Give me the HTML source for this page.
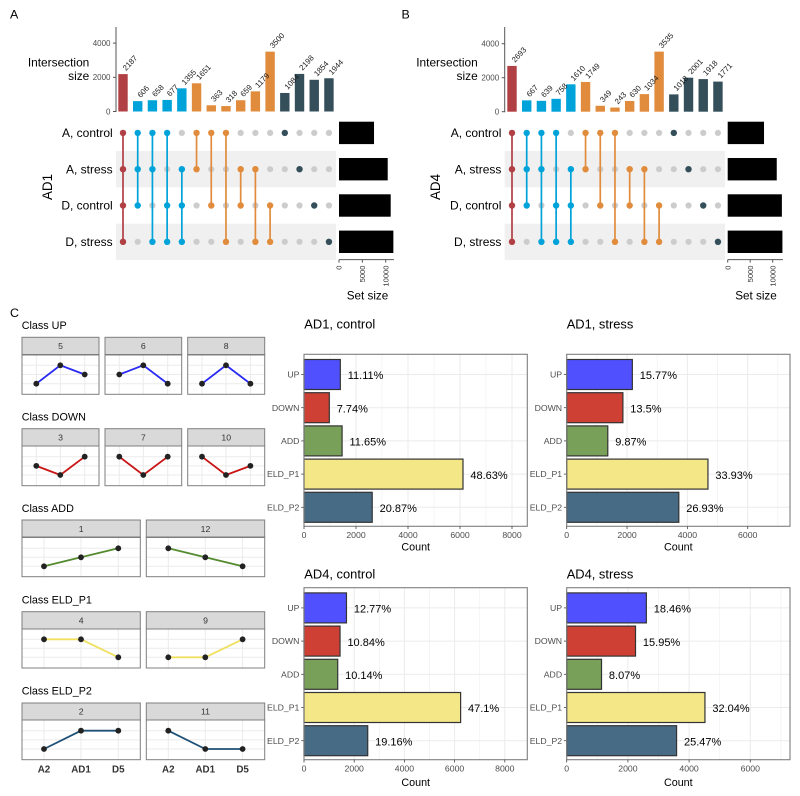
<!DOCTYPE html>
<html lang="en">
<head>
<meta charset="utf-8">
<title>Upset plots and class counts</title>
<style>
html,body{margin:0;padding:0;background:#fff;width:800px;height:796px;overflow:hidden}
svg{display:block;font-family:"Liberation Sans",Arial,sans-serif}
</style>
</head>
<body>
<svg id="fig" xmlns="http://www.w3.org/2000/svg" width="800" height="796" viewBox="0 0 800 796">
<rect x="0" y="0" width="800" height="796" fill="#fff"/>
<g id="marks"></g>
<g fill="#000">
<text x="10" y="18.7" font-size="12.4">A</text>
<text x="401.5" y="18.7" font-size="12.4">B</text>
<text x="10" y="317" font-size="12.4">C</text>
<text x="89.3" y="66.7" font-size="11.9" text-anchor="end">Intersection</text>
<text x="89.3" y="80" font-size="11.9" text-anchor="end">size</text>
<text x="477.7" y="66.7" font-size="11.9" text-anchor="end">Intersection</text>
<text x="477.7" y="80" font-size="11.9" text-anchor="end">size</text>
<text transform="translate(52,187) rotate(-90)" font-size="13.4" text-anchor="middle">AD1</text>
<text transform="translate(440,187) rotate(-90)" font-size="13.4" text-anchor="middle">AD4</text>
<text x="367.5" y="299.3" font-size="11.7" text-anchor="middle">Set size</text>
<text x="756" y="299.3" font-size="11.7" text-anchor="middle">Set size</text>
<text x="21.7" y="329" font-size="10.8">Class UP</text>
<text x="21.7" y="420.5" font-size="10.8">Class DOWN</text>
<text x="21.7" y="512" font-size="10.8">Class ADD</text>
<text x="21.7" y="603.3" font-size="10.8">Class ELD_P1</text>
<text x="21.7" y="694.6" font-size="10.8">Class ELD_P2</text>
<text x="304.3" y="328.3" font-size="12.9">AD1, control</text>
<text x="566.7" y="328.3" font-size="12.9">AD1, stress</text>
<text x="304.3" y="578.3" font-size="12.9">AD4, control</text>
<text x="566.7" y="578.3" font-size="12.9">AD4, stress</text>
<text x="415.7" y="550.7" font-size="10.75" text-anchor="middle">Count</text>
<text x="678.3" y="550.7" font-size="10.75" text-anchor="middle">Count</text>
<text x="415.7" y="786" font-size="10.75" text-anchor="middle">Count</text>
<text x="678.3" y="786" font-size="10.75" text-anchor="middle">Count</text>
</g>
</svg>
<script>
// ---- Upset data ----
const setNames = ['A, control', 'A, stress', 'D, control', 'D, stress'];
const upsetIntersectionGroups = ['all', 'triple', 'triple', 'triple', 'triple', 'pair', 'pair', 'pair', 'pair', 'pair', 'pair', 'single', 'single', 'single', 'single'];
const upsetMembership = [
  [1,1,1,1],[1,1,1,0],[1,1,0,1],[1,0,1,1],[0,1,1,1],
  [1,1,0,0],[1,0,1,0],[1,0,0,1],[0,1,1,0],[0,1,0,1],[0,0,1,1],
  [1,0,0,0],[0,1,0,0],[0,0,1,0],[0,0,0,1]
];
const ad1IntersectionValues = [2187, 606, 658, 677, 1355, 1651, 363, 318, 659, 1179, 3500, 1084, 2198, 1854, 1944];
const ad4IntersectionValues = [2693, 667, 639, 758, 1610, 1749, 349, 243, 630, 1034, 3535, 1018, 2001, 1918, 1771];
const ad1SetSizes = [7500, 10430, 11070, 11640];
const ad4SetSizes = [8070, 10900, 12040, 12160];
const intersectionTicks = [0, 2000, 4000];
const setSizeTicks = [0, 5000, 10000];

// ---- Class profile data ----
const timepoints = ['A2', 'AD1', 'D5'];
const upPanelIds = ['5', '6', '8'];
const upPanelLevels = [[0,2,1],[1,2,0],[0,2,0]];
const downPanelIds = ['3', '7', '10'];
const downPanelLevels = [[1,0,2],[2,0,2],[2,0,1]];
const addPanelIds = ['1', '12'];
const addPanelLevels = [[0,1,2],[2,1,0]];
const eldP1PanelIds = ['4', '9'];
const eldP1PanelLevels = [[2,2,0],[0,0,2]];
const eldP2PanelIds = ['2', '11'];
const eldP2PanelLevels = [[0,2,2],[2,0,0]];

// ---- Count bar data ----
const classCategories = ['UP', 'DOWN', 'ADD', 'ELD_P1', 'ELD_P2'];
const ad1ControlCounts = [1397, 973, 1465, 6115, 2624];
const ad1ControlLabels = ['11.11%', '7.74%', '11.65%', '48.63%', '20.87%'];
const ad1StressCounts = [2176, 1863, 1362, 4682, 3716];
const ad1StressLabels = ['15.77%', '13.5%', '9.87%', '33.93%', '26.93%'];
const ad4ControlCounts = [1692, 1436, 1343, 6240, 2539];
const ad4ControlLabels = ['12.77%', '10.84%', '10.14%', '47.1%', '19.16%'];
const ad4StressCounts = [2603, 2249, 1138, 4518, 3591];
const ad4StressLabels = ['18.46%', '15.95%', '8.07%', '32.04%', '25.47%'];
const countTicksWide = [0, 2000, 4000, 6000, 8000];
const countTicksNarrow = [0, 2000, 4000, 6000];

const NS = 'http://www.w3.org/2000/svg';
const root = document.getElementById('marks');
function add(tag, attrs, name, text) {
  const el = document.createElementNS(NS, tag);
  for (const k in attrs) el.setAttribute(k, attrs[k]);
  
  
  if (text !== undefined) el.textContent = text;
  root.appendChild(el);
  return el;
}

const upsetColors = {all: '#b04044', triple: '#00a3d9', pair: '#e08c3c', single: '#344f5a'};

function drawUpset(prefix, axisX, firstX, stripeEnd, setX0, setPer5000, zeroY, per2000, values, sizes) {
  const stepX = 14.71;
  const rowYs = setNames.map((_, i) => 132.9 + i * 36.3);
  const xCol = i => firstX + i * stepX;
  const yVal = v => zeroY - v / 2000 * per2000;
  const xSet = v => setX0 + v / 5000 * setPer5000;

  // stripes
  [1, 3].forEach(i => {
    add('rect', {x: axisX, y: rowYs[i] - 18.15, width: stripeEnd - axisX, height: 36.3, fill: '#f0f0f0'}, prefix + '-row-stripe');
  });
  // intersection axis
  add('line', {x1: axisX, x2: axisX, y1: 27, y2: zeroY + 0.5, stroke: '#555', 'stroke-width': 1}, prefix + '-intersection-axis');
  intersectionTicks.forEach(t => {
    add('line', {x1: axisX - 3, x2: axisX, y1: yVal(t), y2: yVal(t), stroke: '#555', 'stroke-width': 1}, prefix + '-intersection-tick');
    add('text', {x: axisX - 5.5, y: yVal(t) + 2.9, 'font-size': 8, 'text-anchor': 'end', fill: '#4d4d4d'}, prefix + '-intersection-tick-label', String(t));
  });
  // bars and labels
  values.forEach((v, i) => {
    const c = upsetColors[upsetIntersectionGroups[i]];
    add('rect', {x: xCol(i) - 4.7, y: yVal(v), width: 9.4, height: zeroY - yVal(v), fill: c}, prefix + '-intersection-bar');
  });
  values.forEach((v, i) => {
    const lx = xCol(i) + 3, ly = yVal(v) - 3;
    add('text', {transform: 'translate(' + lx + ',' + ly + ') rotate(-47)', 'font-size': 7.8, fill: '#1a1a1a'}, prefix + '-intersection-value', String(v));
  });
  // set labels
  setNames.forEach((n, r) => {
    add('text', {x: axisX - 3.3, y: rowYs[r] + 4.2, 'font-size': 12, 'text-anchor': 'end', fill: '#000'}, prefix + '-set-label', n);
  });
  // matrix
  upsetMembership.forEach((col, i) => {
    const c = upsetColors[upsetIntersectionGroups[i]];
    const on = col.map((m, r) => m ? r : -1).filter(r => r >= 0);
    col.forEach((m, r) => {
      if (!m) add('circle', {cx: xCol(i), cy: rowYs[r], r: 3.1, fill: '#cccccc'}, prefix + '-matrix-dot-empty');
    });
    if (on.length > 1) {
      add('line', {x1: xCol(i), x2: xCol(i), y1: rowYs[on[0]], y2: rowYs[on[on.length - 1]], stroke: c, 'stroke-width': 1.7}, prefix + '-matrix-link');
    }
    on.forEach(r => {
      add('circle', {cx: xCol(i), cy: rowYs[r], r: 3.2, fill: c}, prefix + '-matrix-dot');
    });
  });
  // set size bars
  sizes.forEach((v, r) => {
    add('rect', {x: setX0, y: rowYs[r] - 11.2, width: xSet(v) - setX0, height: 22.4, fill: '#000'}, prefix + '-set-size-bar');
  });
  add('line', {x1: setX0, x2: xSet(Math.max(...sizes)) + 0.5, y1: 259.6, y2: 259.6, stroke: '#555', 'stroke-width': 1}, prefix + '-set-size-axis');
  setSizeTicks.forEach(t => {
    add('line', {x1: xSet(t), x2: xSet(t), y1: 259.6, y2: 262.6, stroke: '#555', 'stroke-width': 1}, prefix + '-set-size-tick');
    add('text', {transform: 'translate(' + (xSet(t) + 2.7) + ',265.5) rotate(-90)', 'font-size': 7.6, 'text-anchor': 'end', fill: '#333'}, prefix + '-set-size-tick-label', String(t));
  });
}

function drawClassRow(prefix, ids, levels, color, stripTop, stripBottom, panelBottom, lowY, stepY, lefts, rights, xOffsets, showAxis) {
  ids.forEach((id, p) => {
    const L = lefts[p], R = rights[p];
    const xT = k => L + xOffsets[k];
    const yL = l => lowY - l * stepY;
    [0, 1, 2].forEach(l => {
      add('line', {x1: L, x2: R, y1: yL(l), y2: yL(l), stroke: '#ebebeb', 'stroke-width': 1}, prefix + '-grid-horizontal');
    });
    timepoints.forEach((_, k) => {
      add('line', {x1: xT(k), x2: xT(k), y1: stripBottom, y2: panelBottom, stroke: '#ebebeb', 'stroke-width': 1}, prefix + '-grid-vertical');
    });
    add('rect', {x: L, y: stripTop, width: R - L, height: stripBottom - stripTop, fill: '#d9d9d9', stroke: '#7f7f7f', 'stroke-width': 1}, prefix + '-strip');
    add('line', {x1: L, x2: R, y1: stripBottom, y2: stripBottom, stroke: '#444', 'stroke-width': 1}, prefix + '-strip-edge');
    add('text', {x: (L + R) / 2, y: (stripTop + stripBottom) / 2 + 3.1, 'font-size': 8.7, 'text-anchor': 'middle', fill: '#333'}, prefix + '-strip-label', id);
    add('rect', {x: L, y: stripBottom, width: R - L, height: panelBottom - stripBottom, fill: 'none', stroke: '#7f7f7f', 'stroke-width': 1}, prefix + '-panel-border');
    const pts = levels[p].map((l, k) => xT(k) + ',' + yL(l)).join(' ');
    add('polyline', {points: pts, fill: 'none', stroke: color, 'stroke-width': 1.8}, prefix + '-profile-line');
    levels[p].forEach((l, k) => {
      add('circle', {cx: xT(k), cy: yL(l), r: 2.9, fill: '#222'}, prefix + '-profile-point');
    });
    if (showAxis) {
      timepoints.forEach((t, k) => {
        add('text', {x: xT(k), y: 772.7, 'font-size': 9.8, 'font-weight': 'bold', 'text-anchor': 'middle', fill: '#333'}, prefix + '-x-tick-label', t);
      });
    }
  });
}

const barFills = ['#5050ff', '#cf4034', '#78a058', '#f3e788', '#486b85'];

function drawCounts(prefix, left, right, top, bottom, pxPer1000, counts, labels, ticks) {
  const xC = v => left + v / 1000 * pxPer1000;
  const yC = i => top + 20.2 + i * 33.2;
  const maxK = (right - left) / pxPer1000;
  for (let k = 1; k < maxK; k += 2) {
    add('line', {x1: xC(k * 1000), x2: xC(k * 1000), y1: top, y2: bottom, stroke: '#f0f0f0', 'stroke-width': 0.7}, prefix + '-grid-minor');
  }
  ticks.forEach(t => {
    add('line', {x1: xC(t), x2: xC(t), y1: top, y2: bottom, stroke: '#ebebeb', 'stroke-width': 1}, prefix + '-grid-major');
  });
  classCategories.forEach((c, i) => {
    add('line', {x1: left, x2: right, y1: yC(i), y2: yC(i), stroke: '#ebebeb', 'stroke-width': 1}, prefix + '-grid-category');
  });
  counts.forEach((v, i) => {
    add('rect', {x: left, y: yC(i) - 15, width: xC(v) - left, height: 30, fill: barFills[i], stroke: '#333', 'stroke-width': 1.2}, prefix + '-bar-' + classCategories[i].toLowerCase().replace('_', '-'));
    add('text', {x: xC(v) + 7.4, y: yC(i) + 4.7, 'font-size': 11, fill: '#000'}, prefix + '-bar-value', labels[i]);
    add('line', {x1: left - 2.8, x2: left, y1: yC(i), y2: yC(i), stroke: '#444', 'stroke-width': 0.8}, prefix + '-y-tick');
    add('text', {x: left - 4.6, y: yC(i) + 3.1, 'font-size': 8.7, 'text-anchor': 'end', fill: '#4d4d4d'}, prefix + '-y-tick-label', classCategories[i]);
  });
  add('rect', {x: left, y: top, width: right - left, height: bottom - top, fill: 'none', stroke: '#7f7f7f', 'stroke-width': 1.1}, prefix + '-panel-border');
  ticks.forEach(t => {
    add('line', {x1: xC(t), x2: xC(t), y1: bottom, y2: bottom + 2.8, stroke: '#444', 'stroke-width': 0.8}, prefix + '-x-tick');
    add('text', {x: xC(t), y: bottom + 11.8, 'font-size': 8.7, 'text-anchor': 'middle', fill: '#4d4d4d'}, prefix + '-x-tick-label', String(t));
  });
}

drawUpset('ad1-upset', 116, 123, 336, 339, 23.35, 111.5, 34.2, ad1IntersectionValues, ad1SetSizes);
drawUpset('ad4-upset', 504.7, 512, 725, 727.7, 22.5, 111.7, 34, ad4IntersectionValues, ad4SetSizes);

const threeLefts = [22, 105, 187.7], threeRights = [99, 181.7, 264.7], threeOffsets = [14.3, 38.3, 62.7];
const twoLefts = [22, 146.3], twoRights = [140.3, 264.7], twoOffsets = [22, 59, 96.3];
drawClassRow('class-up', upPanelIds, upPanelLevels, '#2a2af5', 337.3, 354.7, 394.3, 383.7, 9.2, threeLefts, threeRights, threeOffsets, false);
drawClassRow('class-down', downPanelIds, downPanelLevels, '#c81414', 428.7, 446, 485.7, 475, 9.15, threeLefts, threeRights, threeOffsets, false);
drawClassRow('class-add', addPanelIds, addPanelLevels, '#558b2f', 520, 537.3, 576.7, 566.3, 9, twoLefts, twoRights, twoOffsets, false);
drawClassRow('class-eld-p1', eldP1PanelIds, eldP1PanelLevels, '#f0e060', 611.7, 629, 668, 657.3, 9, twoLefts, twoRights, twoOffsets, false);
drawClassRow('class-eld-p2', eldP2PanelIds, eldP2PanelLevels, '#1f5076', 703, 720, 759.7, 749, 9.15, twoLefts, twoRights, twoOffsets, true);

drawCounts('ad1-control', 304, 527.3, 354.3, 526.3, 26, ad1ControlCounts, ad1ControlLabels, countTicksWide);
drawCounts('ad1-stress', 566.7, 790, 354.3, 526.3, 30.17, ad1StressCounts, ad1StressLabels, countTicksNarrow);
drawCounts('ad4-control', 304, 527.3, 587.7, 759.7, 25.1, ad4ControlCounts, ad4ControlLabels, countTicksWide);
drawCounts('ad4-stress', 566.7, 790, 587.7, 759.7, 30.6, ad4StressCounts, ad4StressLabels, countTicksNarrow);
</script>
</body>
</html>
